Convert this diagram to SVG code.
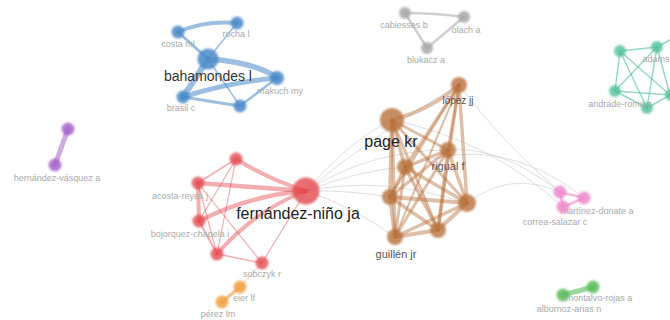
<svg xmlns="http://www.w3.org/2000/svg" width="670" height="320" viewBox="0 0 670 320">
<defs>
<filter id="soft" x="-50%" y="-50%" width="200%" height="200%"><feGaussianBlur stdDeviation="1"/></filter>
<filter id="softe" x="-10%" y="-10%" width="120%" height="120%"><feGaussianBlur stdDeviation="0.5"/></filter>
</defs>
<style>
text{font-family:"Liberation Sans",Arial,sans-serif;text-anchor:middle}
.s{font-size:9px;fill:#aaaaaa}
.m{font-size:11px;fill:#555555}
.b{font-size:14px;fill:#333333}
.c{font-size:16px;fill:#222222}
.e{fill:none;stroke-linecap:round}
.eb{stroke:#4a88c8;stroke-opacity:0.55}
.er{stroke:#e34a50;stroke-opacity:0.45}
.ebr{stroke:#b8703c;stroke-opacity:0.45}
.eg{stroke:#a8a8a8;stroke-opacity:0.55}
.et{stroke:#50c09a;stroke-opacity:0.6}
.ep{stroke:#a35ac8;stroke-opacity:0.5}
.eo{stroke:#f0a040;stroke-opacity:0.6}
.epk{stroke:#ee8acb;stroke-opacity:0.6}
.egr{stroke:#5cbc5c;stroke-opacity:0.6}
.ex{stroke:#cccccc;stroke-width:0.8;stroke-opacity:0.8}
.n{filter:url(#soft)}
.nb{fill:#4a88c8;fill-opacity:0.85}
.nr{fill:#e34a50;fill-opacity:0.8}
.nbr{fill:#b8703c;fill-opacity:0.8}
.ng{fill:#a8a8a8;fill-opacity:0.85}
.nt{fill:#50c09a;fill-opacity:0.8}
.np{fill:#a35ac8;fill-opacity:0.8}
.no{fill:#f0a040;fill-opacity:0.85}
.npk{fill:#ee8acb;fill-opacity:0.85}
.ngr{fill:#5cbc5c;fill-opacity:0.85}
</style>
<rect width="670" height="320" fill="#ffffff"/>
<g id="connectors">
<path class="e ex" d="M306,191 Q350,140 392,120"/>
<path class="e ex" d="M306,191 Q360,170 405,167"/>
<path class="e ex" d="M306,191 Q350,190 390,197"/>
<path class="e ex" d="M306,191 Q350,205 395,237"/>
<path class="e ex" d="M306,191 Q370,150 448,150"/>
<path class="e ex" d="M306,191 Q380,175 467,203"/>
<path class="e ex" d="M306,191 Q380,130 459,85"/>
<path class="e ex" d="M560,192 Q500,140 459,85"/>
<path class="e ex" d="M560,192 Q500,145 448,150"/>
<path class="e ex" d="M563,207 Q490,140 392,120"/>
<path class="e ex" d="M584,198 Q500,130 405,167"/>
<path class="e ex" d="M560,192 Q510,170 467,203"/>
<g filter="url(#softe)">
<path class="e eb" stroke-width="4" d="M178,32 Q205,20 237,23"/>
<path class="e eb" stroke-width="3" d="M178,32 L208,59"/>
<path class="e eb" stroke-width="1.5" d="M237,23 L208,59"/>
<path class="e eb" stroke-width="6" d="M208,59 L183,97"/>
<path class="e eb" stroke-width="5.5" d="M208,59 Q255,62 277,78"/>
<path class="e eb" stroke-width="5" d="M183,97 Q230,82 277,78"/>
<path class="e eb" stroke-width="3" d="M183,97 L240,106"/>
<path class="e eb" stroke-width="2.5" d="M240,106 L277,78"/>
<path class="e eb" stroke-width="1.5" d="M208,59 L240,106"/>
<path class="e eg" stroke-width="2.5" d="M405,13 Q435,13 464,17"/>
<path class="e eg" stroke-width="2.5" d="M405,13 L427,48"/>
<path class="e eg" stroke-width="2.5" d="M464,17 L427,48"/>
<path class="e et" stroke-width="1.5" d="M620,51 L657,47"/>
<path class="e et" stroke-width="1.5" d="M620,51 L615,91"/>
<path class="e et" stroke-width="1.5" d="M620,51 L647,108"/>
<path class="e et" stroke-width="1.5" d="M620,51 L670,95"/>
<path class="e et" stroke-width="1.5" d="M657,47 L615,91"/>
<path class="e et" stroke-width="1.5" d="M657,47 L647,108"/>
<path class="e et" stroke-width="1.5" d="M657,47 L670,95"/>
<path class="e et" stroke-width="1.5" d="M615,91 L647,108"/>
<path class="e et" stroke-width="1.5" d="M615,91 L670,95"/>
<path class="e et" stroke-width="1.5" d="M647,108 L670,95"/>
<path class="e et" stroke-width="1.5" d="M657,47 L670,40"/>
<path class="e ep" stroke-width="5" d="M68,129 L55,165"/>
<path class="e er" stroke-width="4" d="M236,159 Q270,180 306,191"/>
<path class="e er" stroke-width="1.5" d="M236,159 L198,183"/>
<path class="e er" stroke-width="1.2" d="M236,159 L199,221"/>
<path class="e er" stroke-width="1.2" d="M236,159 L217,254"/>
<path class="e er" stroke-width="4.5" d="M198,183 L306,191"/>
<path class="e er" stroke-width="4" d="M198,183 L199,221"/>
<path class="e er" stroke-width="4.5" d="M199,221 Q250,195 306,191"/>
<path class="e er" stroke-width="4" d="M217,254 Q255,210 306,191"/>
<path class="e er" stroke-width="1.2" d="M198,183 L217,254"/>
<path class="e er" stroke-width="2" d="M199,221 L217,254"/>
<path class="e er" stroke-width="1.5" d="M217,254 L262,263"/>
<path class="e er" stroke-width="1.2" d="M262,263 L306,191"/>
<path class="e er" stroke-width="1.2" d="M198,183 L262,263"/>
<path class="e eo" stroke-width="3.5" d="M240,287 L222,302"/>
<path class="e eo" stroke-width="0.8" d="M240,287 L262,263"/>
<path class="e ebr" stroke-width="4" d="M392,120 Q430,110 459,85"/>
<path class="e ebr" stroke-width="3" d="M392,120 L448,150"/>
<path class="e ebr" stroke-width="3.5" d="M392,120 L405,167"/>
<path class="e ebr" stroke-width="4" d="M392,120 L390,197"/>
<path class="e ebr" stroke-width="3" d="M392,120 L467,203"/>
<path class="e ebr" stroke-width="3" d="M392,120 L438,230"/>
<path class="e ebr" stroke-width="3.5" d="M392,120 L395,237"/>
<path class="e ebr" stroke-width="3" d="M459,85 L448,150"/>
<path class="e ebr" stroke-width="3" d="M459,85 L405,167"/>
<path class="e ebr" stroke-width="2.5" d="M459,85 L390,197"/>
<path class="e ebr" stroke-width="3.5" d="M459,85 L467,203"/>
<path class="e ebr" stroke-width="3" d="M459,85 L438,230"/>
<path class="e ebr" stroke-width="2" d="M459,85 L395,237"/>
<path class="e ebr" stroke-width="3" d="M448,150 L405,167"/>
<path class="e ebr" stroke-width="3" d="M448,150 L390,197"/>
<path class="e ebr" stroke-width="3.5" d="M448,150 L467,203"/>
<path class="e ebr" stroke-width="3.5" d="M448,150 L438,230"/>
<path class="e ebr" stroke-width="3" d="M448,150 L395,237"/>
<path class="e ebr" stroke-width="3" d="M405,167 L390,197"/>
<path class="e ebr" stroke-width="3.5" d="M405,167 L467,203"/>
<path class="e ebr" stroke-width="3.5" d="M405,167 L438,230"/>
<path class="e ebr" stroke-width="3" d="M405,167 L395,237"/>
<path class="e ebr" stroke-width="4" d="M390,197 L467,203"/>
<path class="e ebr" stroke-width="3.5" d="M390,197 L438,230"/>
<path class="e ebr" stroke-width="4" d="M390,197 L395,237"/>
<path class="e ebr" stroke-width="4" d="M467,203 L438,230"/>
<path class="e ebr" stroke-width="3.5" d="M467,203 L395,237"/>
<path class="e ebr" stroke-width="4" d="M438,230 L395,237"/>
<path class="e epk" stroke-width="2.5" d="M560,192 L584,198"/>
<path class="e epk" stroke-width="2.5" d="M560,192 L563,207"/>
<path class="e epk" stroke-width="2.5" d="M563,207 L584,198"/>
<path class="e egr" stroke-width="5" d="M563,295 L593,287"/>
</g>
</g>
<g id="node-costa-ml"><circle class="n nb" cx="178" cy="32" r="6.5"/><text class="s" x="178" y="47">costa ml</text></g>
<g id="node-rocha-l"><circle class="n nb" cx="237" cy="23" r="6.5"/><text class="s" x="236" y="37">rocha l</text></g>
<g id="node-bahamondes-l"><circle class="n nb" cx="208" cy="59" r="10.5"/><text class="b" x="208" y="81">bahamondes l</text></g>
<g id="node-makuch-my"><circle class="n nb" cx="277" cy="78" r="7"/><text class="s" x="280" y="94">makuch my</text></g>
<g id="node-brasil-c"><circle class="n nb" cx="183" cy="97" r="6.5"/><text class="s" x="181" y="111">brasil c</text></g>
<g id="node-blue-5"><circle class="n nb" cx="240" cy="106" r="6.5"/></g>
<g id="node-cabiesses-b"><circle class="n ng" cx="405" cy="13" r="6"/><text class="s" x="404" y="28">cabiesses b</text></g>
<g id="node-olach-a"><circle class="n ng" cx="464" cy="17" r="6"/><text class="s" x="466" y="33">olach a</text></g>
<g id="node-blukacz-a"><circle class="n ng" cx="427" cy="48" r="6"/><text class="s" x="426" y="63">blukacz a</text></g>
<g id="node-teal-1"><circle class="n nt" cx="620" cy="51" r="6"/></g>
<g id="node-adams"><circle class="n nt" cx="657" cy="47" r="6"/><text class="s" x="656" y="62">adams</text></g>
<g id="node-teal-3"><circle class="n nt" cx="615" cy="91" r="6"/></g>
<g id="node-andrade-romo-z"><circle class="n nt" cx="647" cy="108" r="6"/><text class="s" x="620" y="107">andrade-romo z</text></g>
<g id="node-teal-5"><circle class="n nt" cx="671" cy="95" r="6"/></g>
<g id="node-purple-1"><circle class="n np" cx="68" cy="129" r="6.5"/></g>
<g id="node-hernandez-vasquez-a"><circle class="n np" cx="55" cy="165" r="6.5"/><text class="s" x="57" y="181">hernández-vásquez a</text></g>
<g id="node-fernandez-nino-ja"><circle class="n nr" cx="306" cy="191" r="13.5"/><text class="c" x="298" y="219">fernández-niño ja</text></g>
<g id="node-red-top"><circle class="n nr" cx="236" cy="159" r="6.5"/></g>
<g id="node-acosta-reyes-j"><circle class="n nr" cx="198" cy="183" r="6.5"/><text class="s" x="180" y="199">acosta-reyes j</text></g>
<g id="node-bojorquez-chapela-i"><circle class="n nr" cx="199" cy="221" r="6.5"/><text class="s" x="190" y="237">bojorquez-chapela i</text></g>
<g id="node-red-bottom"><circle class="n nr" cx="217" cy="254" r="6.5"/></g>
<g id="node-sobczyk-r"><circle class="n nr" cx="262" cy="263" r="6.5"/><text class="s" x="262" y="277">sobczyk r</text></g>
<g id="node-eier-lf"><circle class="n no" cx="240" cy="287" r="6.5"/><text class="s" x="244" y="301">eier lf</text></g>
<g id="node-perez-lm"><circle class="n no" cx="222" cy="302" r="6.5"/><text class="s" x="218" y="317">pérez lm</text></g>
<g id="node-page-kr"><circle class="n nbr" cx="392" cy="120" r="12"/><text class="c" x="391" y="147">page kr</text></g>
<g id="node-lopez-jj"><circle class="n nbr" cx="459" cy="85" r="8"/><text class="m" x="458" y="104" style="font-size:10px">lópez jj</text></g>
<g id="node-rigual-f"><circle class="n nbr" cx="448" cy="150" r="8"/><text class="m" x="448" y="170">rigual f</text></g>
<g id="node-brown-4"><circle class="n nbr" cx="405" cy="167" r="8"/></g>
<g id="node-brown-5"><circle class="n nbr" cx="390" cy="197" r="8"/></g>
<g id="node-brown-6"><circle class="n nbr" cx="467" cy="203" r="9"/></g>
<g id="node-brown-7"><circle class="n nbr" cx="438" cy="230" r="8"/></g>
<g id="node-guillen-jr"><circle class="n nbr" cx="395" cy="237" r="8"/><text class="m" x="396" y="258">guillén jr</text></g>
<g id="node-martinez-donate-a"><circle class="n npk" cx="560" cy="192" r="6.5"/><text class="s" x="597" y="214">martínez-donate a</text></g>
<g id="node-pink-2"><circle class="n npk" cx="584" cy="198" r="6.5"/></g>
<g id="node-correa-salazar-c"><circle class="n npk" cx="563" cy="207" r="6.5"/><text class="s" x="555" y="225">correa-salazar c</text></g>
<g id="node-albornoz-arias-n"><circle class="n ngr" cx="563" cy="295" r="6.5"/><text class="s" x="569" y="312">albornoz-arias n</text></g>
<g id="node-montalvo-rojas-a"><circle class="n ngr" cx="593" cy="287" r="6.5"/><text class="s" x="599" y="301">montalvo-rojas a</text></g>
</svg>
